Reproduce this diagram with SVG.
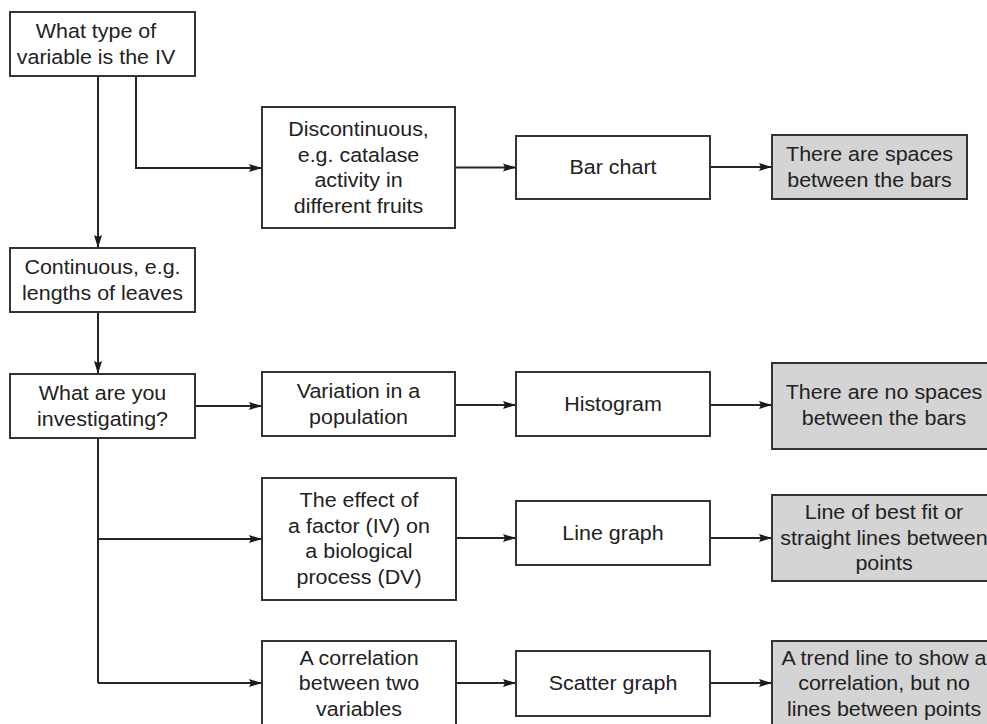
<svg xmlns="http://www.w3.org/2000/svg" width="987" height="724" viewBox="0 0 987 724">
  <style>
    .box { fill: #ffffff; stroke: #333333; stroke-width: 2; }
    .note { fill: #d4d4d4; stroke: #333333; stroke-width: 2; }
    .t { font-family: "Liberation Sans", Arial, Helvetica, sans-serif; font-size: 19.5px; fill: #222222; text-anchor: middle; }
    .wire { fill: none; stroke: #262626; stroke-width: 2; }
    .arrow { fill: none; stroke: #262626; stroke-width: 2; marker-end: url(#head); }
  </style>
  <defs>
    <marker id="head" markerUnits="userSpaceOnUse" markerWidth="14" markerHeight="9" refX="13" refY="4.5" orient="auto">
      <path d="M0,0.5 L13,4.5 L0,8.5 L2,4.5 z" fill="#1a1a1a"/>
    </marker>
  </defs>
  <rect width="987" height="724" fill="#ffffff"/>

  <!-- connectors -->
  <g id="connectors">
    <path class="arrow" d="M98,76 V248"/>
    <path class="arrow" d="M136,76 V168 H262"/>
    <path class="arrow" d="M455,167.5 H516"/>
    <path class="arrow" d="M710,167 H772"/>
    <path class="arrow" d="M98,312 V374"/>
    <path class="arrow" d="M195,406 H262"/>
    <path class="arrow" d="M455,405 H516"/>
    <path class="arrow" d="M710,405 H772"/>
    <path class="wire" d="M98,438 V683"/>
    <path class="arrow" d="M98,539 H262"/>
    <path class="arrow" d="M98,683 H262"/>
    <path class="arrow" d="M456,538 H516"/>
    <path class="arrow" d="M710,538 H772"/>
    <path class="arrow" d="M456,683 H516"/>
    <path class="arrow" d="M710,683 H772"/>
  </g>

  <!-- nodes -->
  <g id="iv-type">
    <rect class="box" x="10" y="12" width="185" height="64"/>
    <text class="t" transform="translate(96 0) scale(1.1 1)"><tspan x="0" y="38.5">What type of</tspan><tspan x="0" y="64">variable is the IV</tspan></text>
  </g>
  <g id="discontinuous">
    <rect class="box" x="262" y="107" width="193" height="121"/>
    <text class="t" transform="translate(358.5 0) scale(1.1 1)"><tspan x="0" y="136.5">Discontinuous,</tspan><tspan x="0" y="162">e.g. catalase</tspan><tspan x="0" y="187.5">activity in</tspan><tspan x="0" y="213">different fruits</tspan></text>
  </g>
  <g id="bar-chart">
    <rect class="box" x="516" y="136" width="194" height="63"/>
    <text class="t" transform="translate(613 0) scale(1.1 1)"><tspan x="0" y="174.5">Bar chart</tspan></text>
  </g>
  <g id="bar-chart-note">
    <rect class="note" x="772" y="135" width="195" height="64"/>
    <text class="t" transform="translate(869.5 0) scale(1.1 1)"><tspan x="0" y="161.5">There are spaces</tspan><tspan x="0" y="187">between the bars</tspan></text>
  </g>
  <g id="continuous">
    <rect class="box" x="10" y="248" width="185" height="64"/>
    <text class="t" transform="translate(102.5 0) scale(1.1 1)"><tspan x="0" y="274.5">Continuous, e.g.</tspan><tspan x="0" y="300">lengths of leaves</tspan></text>
  </g>
  <g id="investigating">
    <rect class="box" x="10" y="374" width="185" height="64"/>
    <text class="t" transform="translate(102.5 0) scale(1.1 1)"><tspan x="0" y="400.5">What are you</tspan><tspan x="0" y="426">investigating?</tspan></text>
  </g>
  <g id="variation">
    <rect class="box" x="262" y="372" width="193" height="64"/>
    <text class="t" transform="translate(358.5 0) scale(1.1 1)"><tspan x="0" y="398.5">Variation in a</tspan><tspan x="0" y="424">population</tspan></text>
  </g>
  <g id="histogram">
    <rect class="box" x="516" y="372" width="194" height="64"/>
    <text class="t" transform="translate(613 0) scale(1.1 1)"><tspan x="0" y="411">Histogram</tspan></text>
  </g>
  <g id="histogram-note">
    <rect class="note" x="772" y="363" width="224" height="86"/>
    <text class="t" transform="translate(884 0) scale(1.1 1)"><tspan x="0" y="399.5">There are no spaces</tspan><tspan x="0" y="425">between the bars</tspan></text>
  </g>
  <g id="effect">
    <rect class="box" x="262" y="478" width="194" height="122"/>
    <text class="t" transform="translate(359 0) scale(1.1 1)"><tspan x="0" y="507.5">The effect of</tspan><tspan x="0" y="533">a factor (IV) on</tspan><tspan x="0" y="558.5">a biological</tspan><tspan x="0" y="584">process (DV)</tspan></text>
  </g>
  <g id="line-graph">
    <rect class="box" x="516" y="501" width="194" height="64"/>
    <text class="t" transform="translate(613 0) scale(1.1 1)"><tspan x="0" y="540">Line graph</tspan></text>
  </g>
  <g id="line-graph-note">
    <rect class="note" x="772" y="495" width="224" height="86"/>
    <text class="t" transform="translate(884 0) scale(1.1 1)"><tspan x="0" y="519.5">Line of best fit or</tspan><tspan x="0" y="545">straight lines between</tspan><tspan x="0" y="570.5">points</tspan></text>
  </g>
  <g id="correlation">
    <rect class="box" x="262" y="641" width="194" height="85"/>
    <text class="t" transform="translate(359 0) scale(1.1 1)"><tspan x="0" y="665">A correlation</tspan><tspan x="0" y="690.5">between two</tspan><tspan x="0" y="716">variables</tspan></text>
  </g>
  <g id="scatter-graph">
    <rect class="box" x="516" y="651" width="194" height="65"/>
    <text class="t" transform="translate(613 0) scale(1.1 1)"><tspan x="0" y="690.5">Scatter graph</tspan></text>
  </g>
  <g id="scatter-graph-note">
    <rect class="note" x="772" y="641" width="224" height="85"/>
    <text class="t" transform="translate(884 0) scale(1.1 1)"><tspan x="0" y="665">A trend line to show a</tspan><tspan x="0" y="690.5">correlation, but no</tspan><tspan x="0" y="716">lines between points</tspan></text>
  </g>
</svg>
